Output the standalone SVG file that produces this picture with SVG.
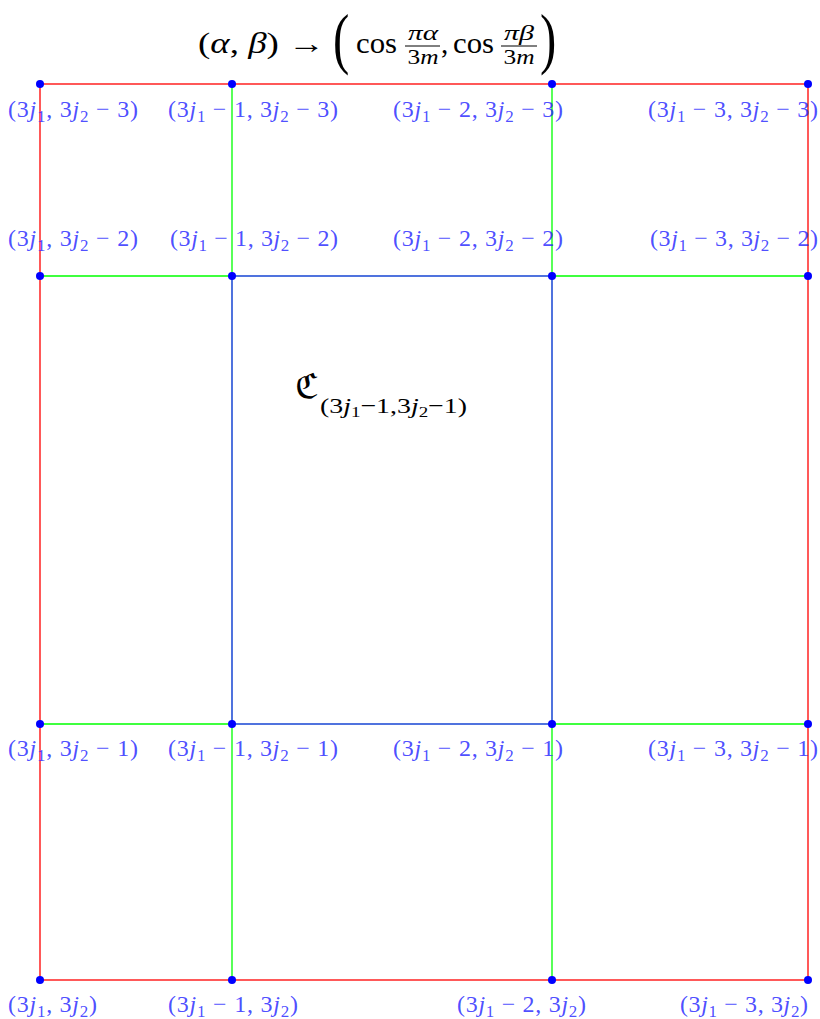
<svg xmlns="http://www.w3.org/2000/svg" width="820" height="1019" viewBox="0 0 820 1019">
<style>
.red{stroke:#ff0000;stroke-width:1.3;fill:none}
.grn{stroke:#00ff00;stroke-width:1.3;fill:none}
.blu{stroke:#0638d0;stroke-width:1.4;fill:none}
.dot{fill:#0000ff}
.lbl{font-family:"Liberation Serif",serif;font-size:24px;fill:#2020ff;fill-opacity:0.8}
.it{font-style:italic}
.sub{font-size:17px}
.math{font-family:"Liberation Serif",serif;fill:#000}
</style>
<rect width="820" height="1019" fill="#fff"/>
<g id="title">
<text class="math" x="198" y="53" font-size="29" textLength="127" lengthAdjust="spacingAndGlyphs">(<tspan class="it">α</tspan>, <tspan class="it">β</tspan>) →</text>
<text class="math" transform="translate(333,61) scale(0.72,1)" font-size="68">(</text>
<text class="math" x="356" y="53" font-size="29" textLength="41" lengthAdjust="spacingAndGlyphs">cos</text>
<text class="math" x="423" y="40" font-size="21" text-anchor="middle" textLength="30" lengthAdjust="spacingAndGlyphs"><tspan class="it">πα</tspan></text>
<line x1="405" y1="46" x2="440" y2="46" stroke="#000" stroke-width="1"/>
<text class="math" x="423" y="64" font-size="21" text-anchor="middle" textLength="31" lengthAdjust="spacingAndGlyphs">3<tspan class="it">m</tspan></text>
<text class="math" x="441" y="53" font-size="29">,</text>
<text class="math" x="453" y="53" font-size="29" textLength="41" lengthAdjust="spacingAndGlyphs">cos</text>
<text class="math" x="519" y="40" font-size="21" text-anchor="middle" textLength="30" lengthAdjust="spacingAndGlyphs"><tspan class="it">πβ</tspan></text>
<line x1="501" y1="46" x2="537" y2="46" stroke="#000" stroke-width="1"/>
<text class="math" x="519" y="64" font-size="21" text-anchor="middle" textLength="31" lengthAdjust="spacingAndGlyphs">3<tspan class="it">m</tspan></text>
<text class="math" transform="translate(540,61) scale(0.72,1)" font-size="68">)</text>
</g>
<g id="connectors">
<rect class="red" x="40" y="84" width="768" height="896"/>
<path class="grn" d="M232 84V276M552 84V276M232 724V980M552 724V980M40 276H232M552 276H808M40 724H232M552 724H808"/>
<rect class="blu" x="232" y="276" width="320" height="448"/>
</g>
<g id="nodes">
<circle class="dot" cx="40" cy="84" r="4"/><circle class="dot" cx="232" cy="84" r="4"/><circle class="dot" cx="552" cy="84" r="4"/><circle class="dot" cx="808" cy="84" r="4"/>
<circle class="dot" cx="40" cy="276" r="4"/><circle class="dot" cx="232" cy="276" r="4"/><circle class="dot" cx="552" cy="276" r="4"/><circle class="dot" cx="808" cy="276" r="4"/>
<circle class="dot" cx="40" cy="724" r="4"/><circle class="dot" cx="232" cy="724" r="4"/><circle class="dot" cx="552" cy="724" r="4"/><circle class="dot" cx="808" cy="724" r="4"/>
<circle class="dot" cx="40" cy="980" r="4"/><circle class="dot" cx="232" cy="980" r="4"/><circle class="dot" cx="552" cy="980" r="4"/><circle class="dot" cx="808" cy="980" r="4"/>
</g>
<g id="labels">
<text class="lbl" x="8" y="117" textLength="130">(3<tspan class="it">j</tspan><tspan class="sub" dy="5">1</tspan><tspan dy="-5">, 3</tspan><tspan class="it">j</tspan><tspan class="sub" dy="5">2</tspan><tspan dy="-5"> − 3)</tspan></text>
<text class="lbl" x="168" y="117" textLength="170">(3<tspan class="it">j</tspan><tspan class="sub" dy="5">1</tspan><tspan dy="-5"> − 1, 3</tspan><tspan class="it">j</tspan><tspan class="sub" dy="5">2</tspan><tspan dy="-5"> − 3)</tspan></text>
<text class="lbl" x="393" y="117" textLength="170">(3<tspan class="it">j</tspan><tspan class="sub" dy="5">1</tspan><tspan dy="-5"> − 2, 3</tspan><tspan class="it">j</tspan><tspan class="sub" dy="5">2</tspan><tspan dy="-5"> − 3)</tspan></text>
<text class="lbl" x="648" y="117" textLength="170">(3<tspan class="it">j</tspan><tspan class="sub" dy="5">1</tspan><tspan dy="-5"> − 3, 3</tspan><tspan class="it">j</tspan><tspan class="sub" dy="5">2</tspan><tspan dy="-5"> − 3)</tspan></text>

<text class="lbl" x="8" y="246" textLength="130">(3<tspan class="it">j</tspan><tspan class="sub" dy="5">1</tspan><tspan dy="-5">, 3</tspan><tspan class="it">j</tspan><tspan class="sub" dy="5">2</tspan><tspan dy="-5"> − 2)</tspan></text>
<text class="lbl" x="170" y="246" textLength="168">(3<tspan class="it">j</tspan><tspan class="sub" dy="5">1</tspan><tspan dy="-5"> − 1, 3</tspan><tspan class="it">j</tspan><tspan class="sub" dy="5">2</tspan><tspan dy="-5"> − 2)</tspan></text>
<text class="lbl" x="393" y="246" textLength="170">(3<tspan class="it">j</tspan><tspan class="sub" dy="5">1</tspan><tspan dy="-5"> − 2, 3</tspan><tspan class="it">j</tspan><tspan class="sub" dy="5">2</tspan><tspan dy="-5"> − 2)</tspan></text>
<text class="lbl" x="650" y="246" textLength="168">(3<tspan class="it">j</tspan><tspan class="sub" dy="5">1</tspan><tspan dy="-5"> − 3, 3</tspan><tspan class="it">j</tspan><tspan class="sub" dy="5">2</tspan><tspan dy="-5"> − 2)</tspan></text>

<text class="lbl" x="8" y="756" textLength="130">(3<tspan class="it">j</tspan><tspan class="sub" dy="5">1</tspan><tspan dy="-5">, 3</tspan><tspan class="it">j</tspan><tspan class="sub" dy="5">2</tspan><tspan dy="-5"> − 1)</tspan></text>
<text class="lbl" x="168" y="756" textLength="170">(3<tspan class="it">j</tspan><tspan class="sub" dy="5">1</tspan><tspan dy="-5"> − 1, 3</tspan><tspan class="it">j</tspan><tspan class="sub" dy="5">2</tspan><tspan dy="-5"> − 1)</tspan></text>
<text class="lbl" x="393" y="756" textLength="170">(3<tspan class="it">j</tspan><tspan class="sub" dy="5">1</tspan><tspan dy="-5"> − 2, 3</tspan><tspan class="it">j</tspan><tspan class="sub" dy="5">2</tspan><tspan dy="-5"> − 1)</tspan></text>
<text class="lbl" x="648" y="756" textLength="170">(3<tspan class="it">j</tspan><tspan class="sub" dy="5">1</tspan><tspan dy="-5"> − 3, 3</tspan><tspan class="it">j</tspan><tspan class="sub" dy="5">2</tspan><tspan dy="-5"> − 1)</tspan></text>

<text class="lbl" x="8" y="1012" textLength="89">(3<tspan class="it">j</tspan><tspan class="sub" dy="5">1</tspan><tspan dy="-5">, 3</tspan><tspan class="it">j</tspan><tspan class="sub" dy="5">2</tspan><tspan dy="-5">)</tspan></text>
<text class="lbl" x="168" y="1012" textLength="130">(3<tspan class="it">j</tspan><tspan class="sub" dy="5">1</tspan><tspan dy="-5"> − 1, 3</tspan><tspan class="it">j</tspan><tspan class="sub" dy="5">2</tspan><tspan dy="-5">)</tspan></text>
<text class="lbl" x="457" y="1012" textLength="129">(3<tspan class="it">j</tspan><tspan class="sub" dy="5">1</tspan><tspan dy="-5"> − 2, 3</tspan><tspan class="it">j</tspan><tspan class="sub" dy="5">2</tspan><tspan dy="-5">)</tspan></text>
<text class="lbl" x="680" y="1012" textLength="128">(3<tspan class="it">j</tspan><tspan class="sub" dy="5">1</tspan><tspan dy="-5"> − 3, 3</tspan><tspan class="it">j</tspan><tspan class="sub" dy="5">2</tspan><tspan dy="-5">)</tspan></text>
</g>
<g id="cell">
<text x="295" y="398" font-family="'DejaVu Serif','DejaVu Sans',serif" font-size="34" fill="#000">ℭ</text>
<text class="math" x="320" y="413" font-size="22" textLength="147" lengthAdjust="spacingAndGlyphs">(3<tspan class="it">j</tspan><tspan font-size="15" dy="4">1</tspan><tspan dy="-4">−1,3</tspan><tspan class="it">j</tspan><tspan font-size="15" dy="4">2</tspan><tspan dy="-4">−1)</tspan></text>
</g>
</svg>
